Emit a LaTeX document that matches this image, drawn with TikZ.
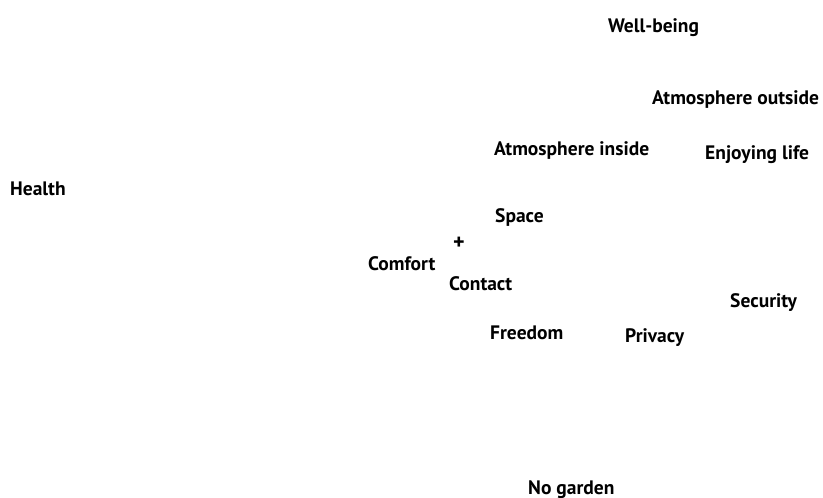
\documentclass[tikz,border=0pt]{standalone}
\usepackage{fontspec}
\setmainfont{PT Sans}
\begin{document}
\begin{tikzpicture}[x=1pt,y=1pt,
  lbl/.style={anchor=base west,inner sep=0pt,font=\fontsize{19.5}{23}\selectfont\bfseries}]
\useasboundingbox (0,0) rectangle (823,-498);
\node[lbl] (wellbeing) at (608,-32) {Well-being};
\node[lbl] (atmout) at (652,-104) {Atmosphere outside};
\node[lbl] (atmin) at (494,-155) {Atmosphere inside};
\node[lbl] (enjoy) at (705,-159) {Enjoying life};
\node[lbl] (health) at (10,-195) {Health};
\node[lbl] (space) at (495,-222) {Space};
\node[lbl,font=\fontsize{22}{26}\selectfont\bfseries] (plus) at (453,-249) {+};
\node[lbl] (comfort) at (368,-270) {Comfort};
\node[lbl] (contact) at (449,-290) {Contact};
\node[lbl] (freedom) at (490,-339) {Freedom};
\node[lbl] (privacy) at (625,-342) {Privacy};
\node[lbl] (security) at (730,-307) {Security};
\node[lbl] (nogarden) at (528,-494) {No garden};
\end{tikzpicture}
\end{document}
